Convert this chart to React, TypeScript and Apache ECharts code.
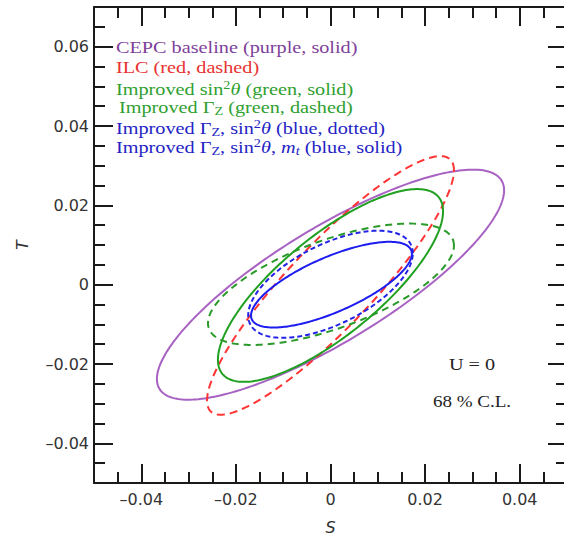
import React, { useEffect, useRef } from "react";
import * as echarts from "echarts";

// Axis ranges and tick labels
const S_RANGE = [-0.05, 0.05];
const T_RANGE = [-0.05, 0.07];
const S_MAJOR = [-0.04, -0.02, 0, 0.02, 0.04];
const T_MAJOR = [-0.04, -0.02, 0, 0.02, 0.04, 0.06];
const MINOR_STEP = 0.005;

// Ellipse fits (68% C.L.): centre, widths and correlation
const ellipseNames = [
  "CEPC baseline",
  "ILC",
  "Improved sin2theta",
  "Improved GammaZ",
  "Improved GammaZ, sin2theta",
  "Improved GammaZ, sin2theta, mt",
];
const centerS = [0.0, 0.0, 0.0, 0.0001, 0.0, 0.0002];
const centerT = [0.0, -0.0002, -0.0002, 0.0001, 0.0001, 0.0];
const sigmaS = [0.0367, 0.0261, 0.0238, 0.026, 0.0174, 0.017];
const sigmaT = [0.029, 0.0326, 0.0243, 0.0153, 0.0135, 0.0108];
const rho = [0.82, 0.89, 0.77, 0.64, 0.58, 0.72];

const lineColors = ["#a862c2", "#ff3434", "#20a020", "#2a9a2a", "#2323e6", "#1c1cf0"];
const lineDashes: (number[] | null)[] = [null, [8, 5], null, [7, 5], [5, 3], null];

const FRAME = "#1a1a1a";

function fmt(v: number) {
  if (Math.abs(v) < 1e-9) return "0";
  return (v < 0 ? "\u2013" : "") + Math.abs(v).toFixed(2);
}

export default function App() {
  const ref = useRef<HTMLDivElement>(null);
  useEffect(() => {
    if (!ref.current) return;
    const chart = echarts.init(ref.current, undefined, { renderer: "svg" });

    const labelStyle = (major: number[], margin: number, visible: boolean) => ({
      show: true,
      customValues: major,
      formatter: (v: number) => (visible ? fmt(v) : ""),
      fontFamily: "DejaVu Sans",
      fontSize: 16,
      color: "#333",
      margin,
    });

    const majorAxis = (pos: string, range: number[], major: number[], visible: boolean, margin: number, extra: any = {}) => ({
      type: "value",
      position: pos,
      min: range[0],
      max: range[1],
      axisLine: { show: true, onZero: false, lineStyle: { color: FRAME, width: 2 } },
      axisTick: { show: true, inside: true, length: 19, customValues: major, lineStyle: { color: FRAME, width: 2 } },
      axisLabel: labelStyle(major, margin, visible),
      splitLine: { show: false },
      ...extra,
    });
    const minorAxis = (pos: string, range: number[]) => ({
      type: "value",
      position: pos,
      min: range[0],
      max: range[1],
      interval: MINOR_STEP,
      axisLine: { show: false, onZero: false },
      axisTick: { show: true, inside: true, length: 11, lineStyle: { color: FRAME, width: 2 } },
      axisLabel: { show: false },
      splitLine: { show: false },
    });

    const series = ellipseNames.map((name, i) => ({
      type: "custom",
      name,
      xAxisIndex: 0,
      yAxisIndex: 0,
      data: [[centerS[i], centerT[i], sigmaS[i], sigmaT[i], rho[i]]],
      encode: { x: 0, y: 1 },
      renderItem: (params: any, api: any) => {
        const cx = api.value(0);
        const cy = api.value(1);
        const sx = api.value(2);
        const sy = api.value(3);
        const r = api.value(4);
        const N = 240;
        const pts: number[][] = [];
        const q = Math.sqrt(1 - r * r);
        for (let k = 0; k <= N; k++) {
          const t = (2 * Math.PI * k) / N;
          pts.push(api.coord([cx + sx * Math.cos(t), cy + sy * (r * Math.cos(t) + q * Math.sin(t))]));
        }
        return {
          type: "polyline",
          shape: { points: pts },
          style: {
            fill: "none",
            stroke: lineColors[i],
            lineWidth: 2,
            lineDash: lineDashes[i] || undefined,
          },
        };
      },
    }));

    const serif = "Liberation Serif";
    const FS = 17;
    const SX = 1.19;
    const rich = (color: string) => ({
      sup: { fontFamily: serif, fontSize: 12, fill: color, verticalAlign: "top", lineHeight: 13 },
      sub: { fontFamily: serif, fontSize: 12, fill: color, verticalAlign: "bottom", lineHeight: 13 },
      it: { fontFamily: serif, fontSize: FS, fontStyle: "italic", fill: color, lineHeight: 20 },
      itsub: { fontFamily: serif, fontSize: 12, fontStyle: "italic", fill: color, verticalAlign: "bottom", lineHeight: 13 },
    });
    const legendText = (x: number, y: number, text: string, color: string) => ({
      type: "text",
      x,
      y,
      scaleX: SX,
      style: {
        text,
        fill: color,
        fontFamily: serif,
        fontSize: FS,
        lineHeight: 20,
        verticalAlign: "middle",
        rich: rich(color),
      },
    });

    chart.setOption({
      animation: false,
      backgroundColor: "#fff",
      grid: { left: 94, top: 7, width: 473, height: 476, containLabel: false, outerBoundsMode: "none" },
      xAxis: [
        majorAxis("bottom", S_RANGE, S_MAJOR, true, 8, {
          name: "S",
          nameLocation: "middle",
          nameGap: 36,
          nameTextStyle: { fontFamily: "DejaVu Sans", fontSize: 16, fontStyle: "italic", color: "#333" },
        }),
        minorAxis("bottom", S_RANGE),
        majorAxis("top", S_RANGE, S_MAJOR, false, 8),
        minorAxis("top", S_RANGE),
      ],
      yAxis: [
        majorAxis("left", T_RANGE, T_MAJOR, true, 5, {
          name: "T",
          nameLocation: "middle",
          nameGap: 64,
          nameRotate: 90,
          nameTextStyle: { fontFamily: "DejaVu Sans", fontSize: 16, fontStyle: "italic", color: "#333" },
        }),
        minorAxis("left", T_RANGE),
        majorAxis("right", T_RANGE, T_MAJOR, false, 5),
        minorAxis("right", T_RANGE),
      ],
      series,
      graphic: [
        legendText(116, 47, "CEPC baseline (purple, solid)", "#7e3f9a"),
        legendText(116, 67, "ILC (red, dashed)", "#e83232"),
        legendText(116, 89, "Improved sin{sup|2}{it|θ} (green, solid)", "#2f9f2f"),
        legendText(119, 107, "Improved Γ{sub|Z} (green, dashed)", "#2f9f2f"),
        legendText(116, 128, "Improved Γ{sub|Z}, sin{sup|2}{it|θ} (blue, dotted)", "#2424c4"),
        legendText(116, 147, "Improved Γ{sub|Z}, sin{sup|2}{it|θ}, {it|m}{itsub|t} (blue, solid)", "#2424c4"),
        {
          type: "text",
          x: 472,
          y: 364,
          scaleX: SX,
          style: { text: "U = 0", fill: "#222", fontFamily: serif, fontSize: 17, align: "center", verticalAlign: "middle" },
        },
        {
          type: "text",
          x: 472,
          y: 402,
          scaleX: SX,
          style: { text: "68 % C.L.", fill: "#222", fontFamily: serif, fontSize: 16, align: "center", verticalAlign: "middle" },
        },
      ],
    });
    return () => chart.dispose();
  }, []);
  return <div ref={ref} style={{ position: "absolute", left: 0, top: 0, width: 564, height: 541 }} />;
}
